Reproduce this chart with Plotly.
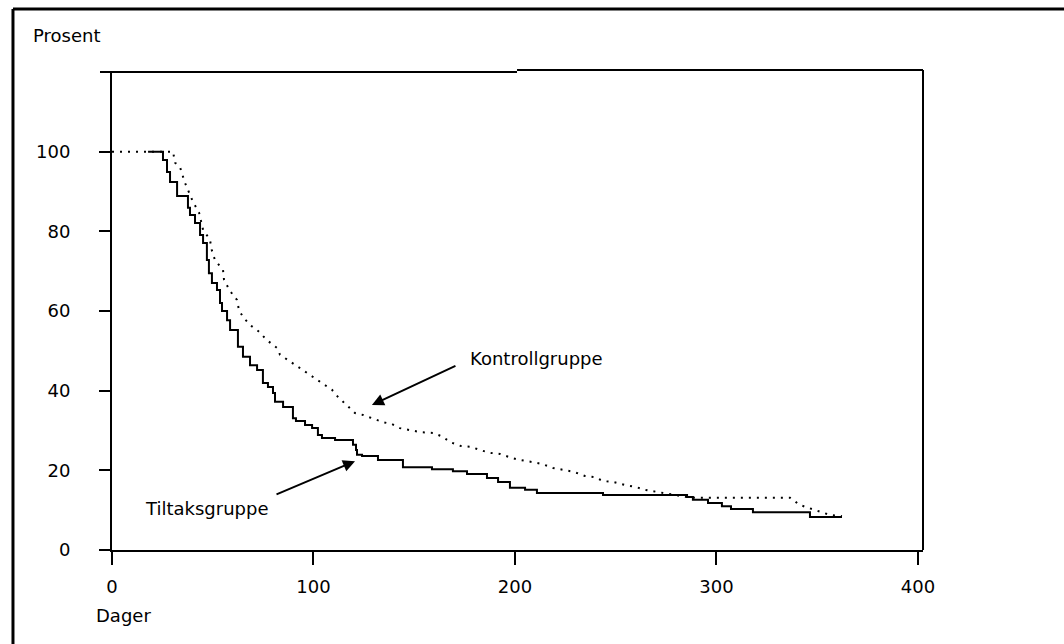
import plotly.graph_objects as go

# Tiltaksgruppe (solid step curve)
tiltak_days = [17.9, 25.3, 27.3, 28.8, 32.3, 37.7, 38.7, 41.2, 43.7, 45.2, 47.1, 48.1, 49.6, 52.1,
               53.6, 54.6, 57.1, 58.6, 62.5, 65.0, 68.5, 72.0, 74.9, 77.4, 79.9, 80.9, 84.9, 89.8,
               91.3, 95.8, 99.3, 102.2, 104.2, 110.7, 119.6, 121.1, 121.6, 124.1, 132.0, 144.4,
               158.8, 169.2, 176.2, 186.1, 191.6, 197.5, 205.0, 210.9, 243.7, 285.4, 288.3, 295.8,
               302.7, 307.2, 318.1, 346.4, 362.3]
tiltak_pct = [100, 97.9, 94.9, 92.4, 88.9, 85.9, 84.1, 82.1, 79.1, 77.1, 72.8, 69.5, 67.0, 65.3,
              62.0, 60.0, 57.7, 55.2, 51.0, 48.5, 46.4, 45.2, 41.9, 40.9, 39.4, 37.2, 35.9, 33.1,
              32.4, 31.4, 30.6, 28.9, 28.1, 27.6, 26.4, 25.1, 23.9, 23.6, 22.6, 20.8,
              20.3, 19.8, 19.1, 18.1, 17.1, 15.6, 15.1, 14.3, 13.8, 13.3, 12.6, 11.8,
              11.0, 10.3, 9.5, 8.3, 8.3]

# Kontrollgruppe (dotted curve)
kontroll_days = [0, 30.3, 31.3, 33.7, 36.2, 40.2, 43.2, 45.2, 48.6, 49.6, 51.1, 55.1, 55.6, 58.6,
                 62.0, 63.0, 65.0, 68.5, 72.5, 76.9, 81.9, 83.4, 87.3, 91.8, 95.8, 99.8, 104.7,
                 109.2, 112.2, 116.6, 120.6, 124.6, 130.0, 134.5, 139.0, 142.9, 147.9, 152.9,
                 159.3, 164.3, 167.7, 173.2, 178.2, 182.6, 187.6, 192.6, 198.5, 202.5, 208.4,
                 213.4, 218.9, 224.8, 229.3, 234.7, 239.7, 243.7, 248.6, 254.6, 260.0, 264.5,
                 273.0, 285.4, 290.3, 336.5, 341.4, 346.4, 352.4, 356.3, 362.3]
kontroll_pct = [100, 100, 97.2, 96.2, 92.2, 87.4, 84.7, 80.4, 77.9, 75.1, 72.8, 70.3, 67.8, 65.0,
                62.8, 60.3, 58.5, 56.5, 55.0, 52.7, 50.7, 49.0, 47.7, 46.2, 44.7, 43.4, 41.7,
                40.2, 38.4, 36.4, 34.4, 33.9, 32.9, 32.1, 31.6, 30.6, 30.1, 29.6,
                29.4, 28.4, 27.1, 26.1, 25.9, 25.1, 24.4, 24.1, 23.1, 22.6, 22.1,
                21.6, 20.6, 20.1, 19.6, 18.6, 18.3, 17.3, 17.1, 16.3, 15.8, 15.1,
                14.3, 13.3, 13.1, 13.1, 11.3, 10.5, 9.5, 8.8, 8.5]

x_ticks = [0, 100, 200, 300, 400]
y_ticks = [0, 20, 40, 60, 80, 100]

FONT = "DejaVu Sans"

fig = go.Figure()
fig.add_trace(go.Scatter(x=kontroll_days, y=kontroll_pct, mode="lines",
                         line=dict(color="black", width=2, dash="2px,6px"),
                         name="Kontrollgruppe", showlegend=False, hoverinfo="skip"))
fig.add_trace(go.Scatter(x=tiltak_days, y=tiltak_pct, mode="lines", line_shape="hv",
                         line=dict(color="black", width=2),
                         name="Tiltaksgruppe", showlegend=False, hoverinfo="skip"))

fig.update_layout(
    width=1064, height=644,
    margin=dict(l=112, r=141, t=72, b=94, pad=0),
    paper_bgcolor="white", plot_bgcolor="white",
    font=dict(family=FONT, size=18, color="black"),
    xaxis=dict(range=[0, 402.5], tickvals=x_ticks, ticktext=[str(v) for v in x_ticks],
               showgrid=False, zeroline=False, showline=True, linecolor="black", linewidth=2,
               ticks="outside", ticklen=13, tickwidth=2, tickcolor="black",
               ticklabelstandoff=6, fixedrange=True),
    yaxis=dict(range=[0, 120], tickvals=y_ticks, ticktext=[str(v) for v in y_ticks],
               showgrid=False, zeroline=False, showline=True, linecolor="black", linewidth=2,
               ticks="outside", ticklen=11, tickwidth=2, tickcolor="black",
               ticklabelstandoff=25, fixedrange=True),
    shapes=[
        dict(type="line", xref="paper", yref="paper", x0=-0.0148, x1=0.4994, y0=1.0, y1=1.0,
             line=dict(color="black", width=2)),
        dict(type="line", xref="paper", yref="paper", x0=0.4994, x1=1.0, y0=1.0042, y1=1.0042,
             line=dict(color="black", width=2)),
        dict(type="line", xref="paper", yref="paper", x0=1.0, x1=1.0, y0=0, y1=1.0042,
             line=dict(color="black", width=2)),
        # outer frame: top and left edges (right/bottom fall outside the picture)
        dict(type="line", xref="paper", yref="paper", x0=-0.1221, x1=1.2, y0=1.1318, y1=1.1318,
             line=dict(color="black", width=3)),
        dict(type="line", xref="paper", yref="paper", x0=-0.1221, x1=-0.1221, y0=-0.2, y1=1.1318,
             line=dict(color="black", width=3)),
    ],
    annotations=[
        dict(text="Prosent", xref="paper", yref="paper", x=-0.0555, y=1.0774,
             xanchor="center", yanchor="middle", showarrow=False),
        dict(text="Dager", xref="paper", yref="paper", x=-0.0222, y=-0.136,
             xanchor="left", yanchor="middle", showarrow=False),
        dict(text="Kontrollgruppe", xref="x", yref="y", x=176.7, y=48.0,
             xanchor="left", yanchor="middle", showarrow=False),
        dict(text="Tiltaksgruppe", xref="x", yref="y", x=15.4, y=10.3,
             xanchor="left", yanchor="middle", showarrow=False),
        dict(text="", xref="x", yref="y", x=129.0, y=36.4, axref="x", ayref="y",
             ax=171.2, ay=46.4, showarrow=True, arrowhead=2, arrowsize=1.2,
             arrowwidth=2, arrowcolor="black", standoff=0),
        dict(text="", xref="x", yref="y", x=120.6, y=22.3, axref="x", ayref="y",
             ax=80.9, ay=13.8, showarrow=True, arrowhead=2, arrowsize=1.2,
             arrowwidth=2, arrowcolor="black", standoff=0),
    ],
)

fig.write_html("out.html", config={"displayModeBar": False},
               post_script="document.body.style.margin='0px';document.body.style.overflow='hidden';")
